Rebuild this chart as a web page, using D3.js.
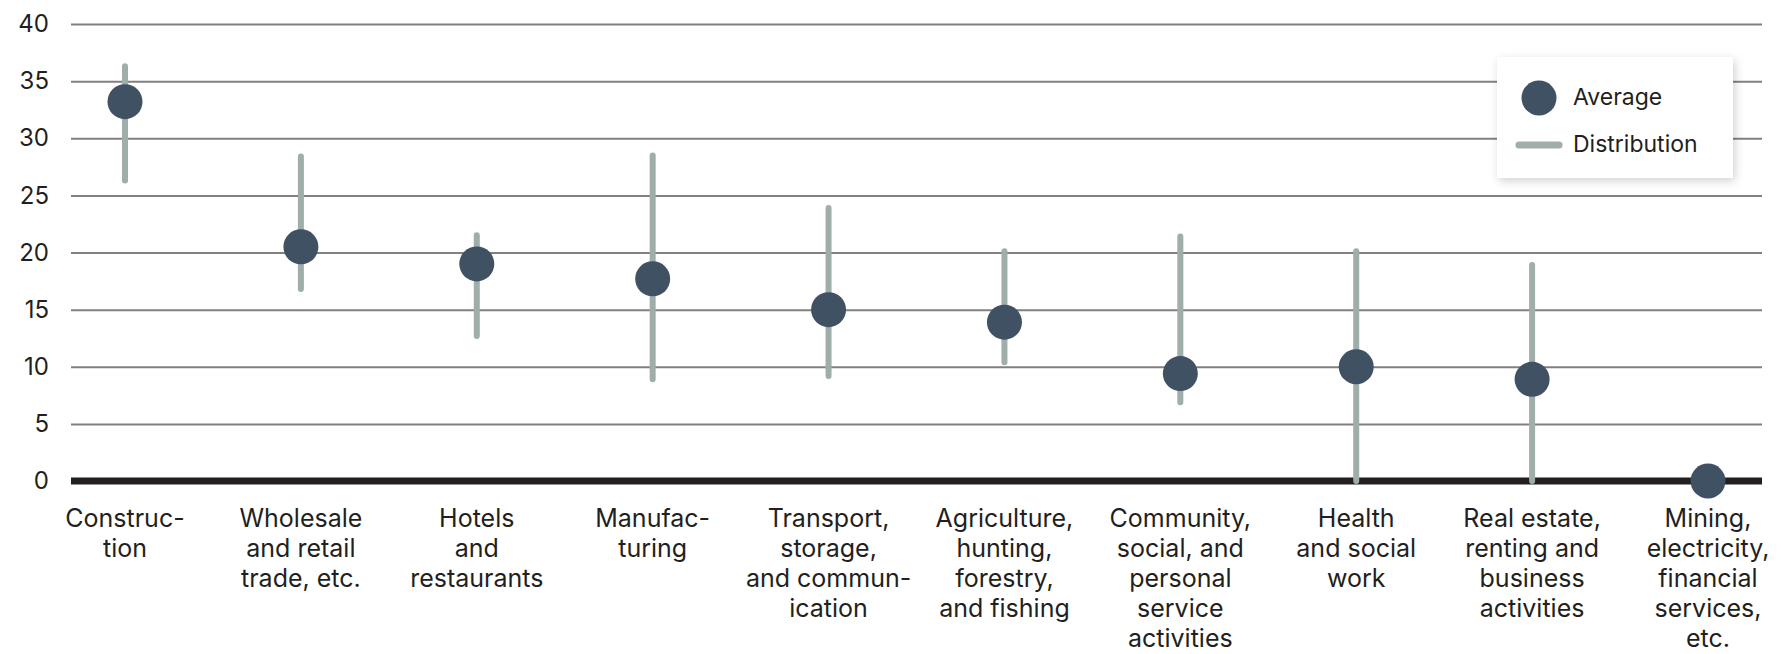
<!DOCTYPE html>
<html>
<head>
<meta charset="utf-8">
<script src="https://cdn.jsdelivr.net/npm/d3@7"></script>
<style>
  html, body { margin: 0; padding: 0; background: #fff; }
  svg { display: block; font-family: Inter, "Noto Sans", sans-serif; }
</style>
</head>
<body>
<div id="chart"></div>
<script>
// --- data ---
const categories = [
    ["Construc-", "tion"],
    ["Wholesale", "and retail", "trade, etc."],
    ["Hotels", "and", "restaurants"],
    ["Manufac-", "turing"],
    ["Transport,", "storage,", "and commun-", "ication"],
    ["Agriculture,", "hunting,", "forestry,", "and fishing"],
    ["Community,", "social, and", "personal", "service", "activities"],
    ["Health", "and social", "work"],
    ["Real estate,", "renting and", "business", "activities"],
    ["Mining,", "electricity,", "financial", "services,", "etc."]
];
const averages = [33.2, 20.5, 19.0, 17.7, 15.0, 13.9, 9.4, 10.0, 8.9, 0];
const distMin  = [26.3, 16.8, 12.7, 8.9, 9.2, 10.4, 6.9, 0, 0, null];
const distMax  = [36.3, 28.4, 21.5, 28.5, 23.9, 20.1, 21.4, 20.1, 18.9, null];
const yTicks = [0, 5, 10, 15, 20, 25, 30, 35, 40];
const legendItems = ["Average", "Distribution"];

const width = 1781, height = 654;
const gridLeft = 71, gridRight = 1762;
const dotColor = "#3f5163", distColor = "#9fadab", textColor = "#231f20";

const svg = d3.select("#chart").append("svg")
    .attr("width", width)
    .attr("height", height);

const keys = categories.map((c, i) => i);
const x = d3.scalePoint().domain(keys).range([125, 1708]);
const y = d3.scaleLinear().domain([0, 40]).range([481, 24]);

// grid + y axis
const yAxis = d3.axisLeft(y)
    .tickValues(yTicks)
    .tickSize(-(gridRight - gridLeft))
    .tickPadding(22)
    .tickFormat(d3.format("d"));

const gAxis = svg.append("g")
    .attr("transform", `translate(${gridLeft},0)`)
    .call(yAxis);
gAxis.select(".domain").remove();
gAxis.selectAll(".tick line")
    .attr("stroke", "#808080")
    .attr("stroke-width", 2);
gAxis.selectAll(".tick text")
    .attr("fill", textColor)
    .style("font-size", "24px")
    .style("font-family", "Inter, sans-serif");

// zero baseline
svg.append("line")
    .attr("x1", gridLeft).attr("x2", gridRight)
    .attr("y1", y(0)).attr("y2", y(0))
    .attr("stroke", textColor)
    .attr("stroke-width", 7);

// distribution lines
svg.append("g").selectAll("line")
    .data(keys.filter(i => distMin[i] !== null))
    .join("line")
    .attr("x1", i => x(i)).attr("x2", i => x(i))
    .attr("y1", i => y(distMin[i])).attr("y2", i => y(distMax[i]))
    .attr("stroke", distColor)
    .attr("stroke-width", 6)
    .attr("stroke-linecap", "round");

// average dots
svg.append("g").selectAll("circle")
    .data(keys)
    .join("circle")
    .attr("cx", i => x(i))
    .attr("cy", i => y(averages[i]))
    .attr("r", 17.5)
    .attr("fill", dotColor);

// category labels
const labels = svg.append("g").selectAll("text")
    .data(keys)
    .join("text")
    .attr("x", i => x(i))
    .attr("y", 527)
    .attr("text-anchor", "middle")
    .attr("fill", textColor)
    .style("font-size", "25px");
labels.selectAll("tspan")
    .data(i => categories[i].map(t => ({ t, cx: x(i) })))
    .join("tspan")
    .attr("x", d => d.cx)
    .attr("dy", (d, j) => j === 0 ? 0 : 30)
    .text(d => d.t);

// legend
const defs = svg.append("defs");
const shadow = defs.append("filter").attr("id", "shadow")
    .attr("x", "-20%").attr("y", "-20%").attr("width", "140%").attr("height", "140%");
shadow.append("feDropShadow")
    .attr("dx", 2).attr("dy", 3)
    .attr("stdDeviation", 5)
    .attr("flood-color", "#000")
    .attr("flood-opacity", 0.18);

const legend = svg.append("g").attr("transform", "translate(1497,57)");
legend.append("rect")
    .attr("width", 236).attr("height", 121)
    .attr("fill", "#fff")
    .attr("filter", "url(#shadow)");
legend.append("circle")
    .attr("cx", 42).attr("cy", 41).attr("r", 17.5)
    .attr("fill", dotColor);
legend.append("line")
    .attr("x1", 22).attr("x2", 62)
    .attr("y1", 88).attr("y2", 88)
    .attr("stroke", distColor)
    .attr("stroke-width", 7)
    .attr("stroke-linecap", "round");
legend.selectAll("text.item")
    .data(legendItems)
    .join("text")
    .attr("class", "item")
    .attr("x", 76)
    .attr("y", (d, i) => 48 + i * 47)
    .attr("fill", textColor)
    .style("font-size", "23px")
    .text(d => d);
</script>
</body>
</html>
